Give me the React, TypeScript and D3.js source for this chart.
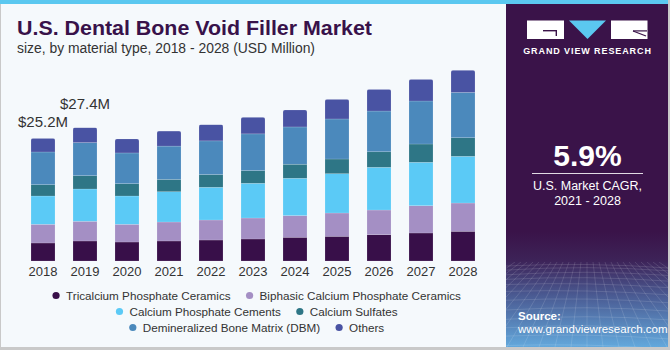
import { scaleBand, scaleLinear, stack, range } from 'd3';

const years = ['2018', '2019', '2020', '2021', '2022', '2023', '2024', '2025', '2026', '2027', '2028'];

const seriesKeys = ['tcp', 'bcp', 'cpc', 'cs', 'dbm', 'others'];
const seriesNames = [
  'Tricalcium Phosphate Ceramics',
  'Biphasic Calcium Phosphate Ceramics',
  'Calcium Phosphate Cements',
  'Calcium Sulfates',
  'Demineralized Bone Matrix (DBM)',
  'Others',
];
const seriesColors = ['#380f49', '#a48fc4', '#5bcaf6', '#2e7686', '#4b89bc', '#4953a3'];

const tcp = [3.7, 4.11, 3.9, 4.11, 4.31, 4.52, 4.87, 5.07, 5.4, 5.75, 6.1];
const bcp = [3.84, 4.05, 3.64, 3.9, 4.11, 4.31, 4.46, 4.79, 5.07, 5.61, 5.81];
const cpc = [5.81, 6.63, 5.81, 6.22, 6.72, 7.13, 7.66, 8.07, 8.77, 8.91, 9.59];
const cs = [2.32, 2.73, 2.53, 2.53, 2.61, 2.61, 2.88, 3.02, 3.2, 3.76, 3.82];
const dbm = [6.72, 6.8, 6.31, 6.84, 6.92, 7.54, 7.66, 8.22, 8.36, 8.83, 9.3];
const others = [2.81, 3.08, 2.88, 3.08, 3.35, 3.43, 3.49, 4.05, 4.46, 4.46, 4.58];

const valueLabels = [
  { year: '2018', text: '$25.2M', offset: 11 },
  { year: '2019', text: '$27.4M', offset: 19 },
];

const legendRows = [[0, 1], [2, 3], [4, 5]];

const W = 670;
const H = 350;
const FONT = "'Liberation Sans', Arial, sans-serif";

type Row = { year: string; [k: string]: string | number };

const rows: Row[] = years.map((y, i) => ({
  year: y,
  tcp: tcp[i],
  bcp: bcp[i],
  cpc: cpc[i],
  cs: cs[i],
  dbm: dbm[i],
  others: others[i],
}));

let ctx: CanvasRenderingContext2D | null = null;
function measure(text: string, font: string) {
  if (!ctx) ctx = document.createElement('canvas').getContext('2d');
  if (!ctx) return text.length * 6;
  ctx.font = font;
  return ctx.measureText(text).width;
}

export default function App() {
  const baseline = 261;
  const x = scaleBand<string>().domain(years).range([22, 484]).paddingInner(0.4286).paddingOuter(0.2143);
  const y = scaleLinear().domain([0, 40]).range([baseline, baseline - 40 * 4.869]);
  const stacked = stack<Row>().keys(seriesKeys)(rows);
  const totals = rows.map((_, i) => stacked[stacked.length - 1][i][1]);

  // legend layout
  const legendSize = 11.7;
  const legendFont = `${legendSize}px ${FONT}`;
  const legendCx = 255;
  const legendY = [296, 312, 328];
  const legendItems = legendRows.flatMap((row, ri) => {
    const widths = row.map((si) => 10 + measure(seriesNames[si], legendFont));
    const total = widths.reduce((a, b) => a + b, 0) + 19 * (row.length - 1);
    let cur = legendCx - total / 2 + 3.5;
    return row.map((si, k) => {
      const item = { si, x: cur, y: legendY[ri] };
      cur += widths[k] + 19;
      return item;
    });
  });

  // decorative grid in the right panel footer
  const panelX = 506;
  const panelW = 162;
  const gridTop = 262;
  const gridBottom = 347;
  const hLines = range(0, 12).map((i) => gridTop + 4 + Math.pow(i / 11, 1.4) * (gridBottom - gridTop - 4));
  const vLines = range(-12, 13).map((i) => i);

  return (
    <svg width={W} height={H} style={{ position: 'absolute', left: 0, top: 0 }} fontFamily={FONT}>
      <defs>
        <linearGradient id="footer" x1="0" y1="0" x2="0" y2="1">
          <stop offset="0%" stopColor="#3a1349" />
          <stop offset="25%" stopColor="#3d2358" />
          <stop offset="55%" stopColor="#4a5a92" />
          <stop offset="100%" stopColor="#63a8dc" />
        </linearGradient>
        <clipPath id="panelClip">
          <rect x={panelX} y={gridTop} width={panelW} height={gridBottom - gridTop} />
        </clipPath>
        {years.map((yr, i) => (
          <clipPath id={`bar-${yr}`} key={yr}>
            <rect x={x(yr)} y={y(totals[i])} width={x.bandwidth()} height={baseline - y(totals[i]) + 4} rx={2} />
          </clipPath>
        ))}
      </defs>

      {/* background and frame */}
      <rect x={0} y={0} width={W} height={H} fill="#c9c9c9" />
      <rect x={1} y={0} width={W - 3} height={H - 3} fill="#f5f9fc" />
      <rect x={0} y={0} width={W - 2} height={4} fill="#5bc8f0" />

      {/* title */}
      <text x={17} y={35} fontSize={21} fontWeight={700} fill="#38124a" textLength={355} lengthAdjust="spacingAndGlyphs">
        U.S. Dental Bone Void Filler Market
      </text>
      <text x={17} y={53} fontSize={14} fill="#333333" textLength={298} lengthAdjust="spacingAndGlyphs">
        size, by material type, 2018 - 2028 (USD Million)
      </text>

      {/* bars */}
      {years.map((yr, i) => (
        <g key={yr} clipPath={`url(#bar-${yr})`}>
          {stacked.map((layer, si) => (
            <rect
              key={layer.key}
              x={x(yr)}
              y={y(layer[i][1])}
              width={x.bandwidth()}
              height={y(layer[i][0]) - y(layer[i][1])}
              fill={seriesColors[si]}
              stroke="#ffffff"
              strokeOpacity={0.25}
              strokeWidth={0.6}
            />
          ))}
        </g>
      ))}

      {/* x axis labels */}
      {years.map((yr) => (
        <text key={yr} x={(x(yr) ?? 0) + x.bandwidth() / 2} y={baseline + 15} fontSize={13} fill="#333333" textAnchor="middle">
          {yr}
        </text>
      ))}

      {/* value labels */}
      {valueLabels.map((v) => {
        const i = years.indexOf(v.year);
        return (
          <text key={v.year} x={(x(v.year) ?? 0) + x.bandwidth() / 2} y={y(totals[i]) - v.offset} fontSize={15} fill="#333333" textAnchor="middle">
            {v.text}
          </text>
        );
      })}

      {/* legend */}
      {legendItems.map((it) => (
        <g key={it.si}>
          <circle cx={it.x} cy={it.y - 0.5} r={3.6} fill={seriesColors[it.si]} />
          <text x={it.x + 10} y={it.y + 4} fontSize={legendSize} fill="#333333">
            {seriesNames[it.si]}
          </text>
        </g>
      ))}

      {/* right panel */}
      <rect x={panelX} y={4} width={panelW} height={gridBottom - 4} fill="#3a1349" />
      <rect x={panelX} y={gridTop - 30} width={panelW} height={gridBottom - gridTop + 30} fill="url(#footer)" />
      <g clipPath="url(#panelClip)" stroke="#ffffff" strokeOpacity={0.18} strokeWidth={0.7} fill="none">
        {hLines.map((hy, i) => (
          <path key={`h${i}`} d={`M${panelX},${hy + Math.sin(i) * 1.5} Q${panelX + panelW / 2},${hy - 4} ${panelX + panelW},${hy + 2}`} />
        ))}
        {vLines.map((v) => (
          <line key={`v${v}`} x1={panelX + panelW / 2 + v * 6} y1={gridTop} x2={panelX + panelW / 2 + v * 16} y2={gridBottom} />
        ))}
      </g>

      {/* logo */}
      <rect x={527} y={20.5} width={37} height={18.5} fill="#ffffff" />
      <rect x={543} y={30} width={14} height={1.4} fill="#3a1349" />
      <rect x={555.6} y={30} width={1.4} height={6} fill="#3a1349" />
      <path d="M569,20.5 L606,20.5 L587.5,39 Z" fill="#5bc8f0" />
      <rect x={611} y={20.5} width={36.5} height={18.5} fill="#ffffff" />
      <path d="M633,31 L646,36" stroke="#3a1349" strokeWidth={1.3} />
      <rect x={633} y={30.3} width={14} height={1.2} fill="#3a1349" />
      <text x={587.5} y={53.5} fontSize={9} fontWeight={700} fill="#ffffff" textAnchor="middle" letterSpacing={0.9}>
        GRAND VIEW RESEARCH
      </text>

      {/* CAGR */}
      <text x={587.5} y={166} fontSize={30} fontWeight={700} fill="#ffffff" textAnchor="middle">
        5.9%
      </text>
      <line x1={532} x2={643} y1={173.5} y2={173.5} stroke="#ffffff" strokeWidth={1} strokeOpacity={0.85} />
      <text x={587.5} y={190} fontSize={12.5} fill="#ffffff" textAnchor="middle">
        U.S. Market CAGR,
      </text>
      <text x={587.5} y={204.5} fontSize={12.5} fill="#ffffff" textAnchor="middle">
        2021 - 2028
      </text>

      {/* source */}
      <text x={518} y={319.5} fontSize={11.5} fontWeight={700} fill="#ffffff">
        Source:
      </text>
      <text x={518} y={332.5} fontSize={11.5} fill="#ffffff">
        www.grandviewresearch.com
      </text>
    </svg>
  );
}
